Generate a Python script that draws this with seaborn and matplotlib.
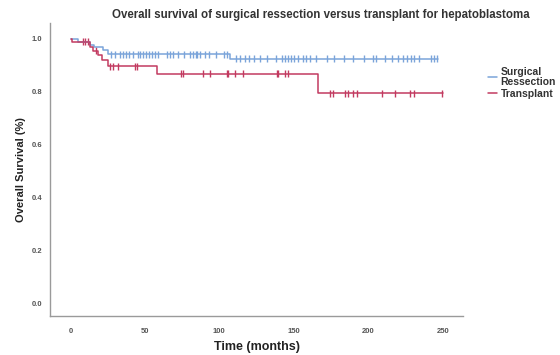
import matplotlib
matplotlib.use('Agg')
import matplotlib.pyplot as plt
from matplotlib.lines import Line2D
import seaborn as sns
import pandas as pd
import numpy as np

# Kaplan-Meier steps (time in months, survival)
surg_times = [0, 5, 13, 16, 22, 25, 107, 247]
surg_surv = [1.0, 0.99, 0.978, 0.968, 0.958, 0.942, 0.925, 0.925]
surg_censor = [27, 30, 33, 35, 37, 39, 42, 45, 47, 49, 51, 53, 55, 57, 59, 65, 67, 69,
               72, 76, 80, 82, 84, 85, 87, 90, 93, 98, 103, 105, 111, 114, 117, 120,
               123, 127, 132, 138, 142, 144, 146, 148, 150, 153, 156, 158, 161, 165,
               172, 177, 184, 190, 197, 203, 205, 211, 216, 220, 223, 226, 229, 231,
               234, 242, 244, 246]

trans_times = [0, 0.8, 13, 15, 18.5, 21, 25, 58, 166.5, 250]
trans_surv = [1.0, 0.99, 0.971, 0.956, 0.94, 0.921, 0.896, 0.868, 0.795, 0.795]
trans_censor = [8.5, 10, 12, 17, 26.5, 28.7, 32, 43.3, 44.4, 74, 75.3, 89.2, 93.7,
                104.9, 106, 110.5, 116, 138.5, 139.6, 144.1, 146.3, 174.3, 176.6,
                184.4, 186.7, 190, 192.3, 209, 218, 228, 230.4, 249.4]

groups = ['Surgical\nRessection', 'Transplant']
colors = {'Surgical\nRessection': '#7ba4da', 'Transplant': '#c23a60'}

curves = pd.concat([
    pd.DataFrame({'time': surg_times, 'surv': surg_surv, 'group': groups[0]}),
    pd.DataFrame({'time': trans_times, 'surv': trans_surv, 'group': groups[1]}),
])


def level_at(times, surv, t):
    i = np.searchsorted(times, t, side='right') - 1
    return surv[i]


marks = pd.concat([
    pd.DataFrame({'time': surg_censor,
                  'surv': [level_at(surg_times, surg_surv, t) for t in surg_censor],
                  'group': groups[0]}),
    pd.DataFrame({'time': trans_censor,
                  'surv': [level_at(trans_times, trans_surv, t) for t in trans_censor],
                  'group': groups[1]}),
])

sns.set_style('white')
plt.rcParams['font.family'] = ['Liberation Sans', 'DejaVu Sans']

fig = plt.figure(figsize=(5.6, 3.55), dpi=100)
ax = fig.add_axes([0.090, 0.111, 0.737, 0.824])

sns.lineplot(data=curves, x='time', y='surv', hue='group', palette=colors,
             drawstyle='steps-post', linewidth=1.1, legend=False, ax=ax)
sns.scatterplot(data=marks, x='time', y='surv', hue='group', palette=colors,
                marker='|', s=25, linewidth=1.0, legend=False, ax=ax)

ax.set_xlim(-13.5, 263.7)
ax.set_ylim(-0.045, 1.06)
ax.set_xticks([0, 50, 100, 150, 200, 250])
ax.set_yticks([0.0, 0.2, 0.4, 0.6, 0.8, 1.0])
ax.set_yticklabels(['0.0', '0.2', '0.4', '0.6', '0.8', '1.0'])
ax.tick_params(length=0, labelsize=5.5, labelcolor='#555555')
ax.tick_params(axis='x', pad=9)
ax.tick_params(axis='y', pad=6)
for lab in ax.get_xticklabels() + ax.get_yticklabels():
    lab.set_fontweight('bold')

sns.despine(ax=ax)
for s in ['left', 'bottom']:
    ax.spines[s].set_color('#9a9a9a')
    ax.spines[s].set_linewidth(1.0)

ax.set_xlabel('Time (months)', fontsize=9, fontweight='bold', color='#222222', labelpad=4)
ax.set_ylabel('Overall Survival (%)', fontsize=8, fontweight='bold', color='#222222', labelpad=4)
fig.text(0.572, 0.958, 'Overall survival of surgical ressection versus transplant for hepatoblastoma',
         ha='center', va='center', fontsize=8.3, fontweight='bold', color='#333333')

handles = [Line2D([0], [0], color=colors[g], lw=1.1) for g in groups]
leg = fig.legend(handles, groups, loc='upper left', bbox_to_anchor=(0.862, 0.825),
                 frameon=False, fontsize=7.5, handlelength=0.9, handletextpad=0.3,
                 labelspacing=0.25, borderpad=0)
for t in leg.get_texts():
    t.set_fontweight('bold')
    t.set_color('#333333')
    t.set_linespacing(0.9)

fig.savefig('out.png', dpi=100)
